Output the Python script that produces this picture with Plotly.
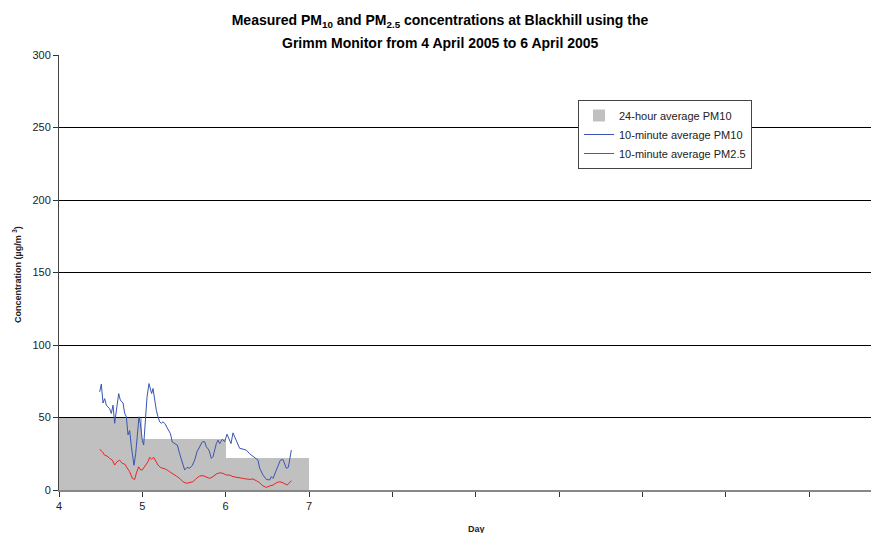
import plotly.graph_objects as go

# 24-hour averages (day centre, value)
avg_day_centre = [4.5, 5.5, 6.5]
avg_pm10 = [50, 35.5, 22]

pm10_days = [4.488, 4.508, 4.528, 4.548, 4.568, 4.608, 4.628, 4.648, 4.668, 4.688,
             4.716, 4.736, 4.768, 4.788, 4.808, 4.828, 4.848, 4.868, 4.888, 4.900,
             4.920, 4.936, 4.960, 4.976, 5.000, 5.016, 5.032, 5.056, 5.080, 5.096,
             5.112, 5.128, 5.148, 5.168, 5.188, 5.208, 5.228, 5.248, 5.268, 5.288,
             5.308, 5.336, 5.360, 5.388, 5.420, 5.448, 5.480, 5.508, 5.536, 5.568,
             5.600, 5.628, 5.656, 5.688, 5.720, 5.748, 5.768, 5.800, 5.828, 5.848,
             5.868, 5.888, 5.908, 5.928, 5.960, 5.988, 6.016, 6.040, 6.064, 6.088,
             6.108, 6.136, 6.168, 6.208, 6.248, 6.288, 6.328, 6.368, 6.388, 6.408,
             6.448, 6.488, 6.528, 6.548, 6.568, 6.600, 6.628, 6.656, 6.688, 6.708,
             6.728, 6.752, 6.768, 6.788]
pm10_vals = [67.7, 73.0, 60.0, 63.0, 58.5, 56.0, 52.8, 58.5, 46.0, 55.0,
             66.5, 62.0, 60.0, 53.0, 50.5, 38.0, 41.0, 30.0, 20.6, 17.0,
             25.0, 37.0, 50.5, 46.0, 34.0, 31.0, 48.0, 64.0, 73.4, 69.0,
             66.5, 70.0, 62.0, 55.0, 50.5, 47.0, 46.0, 47.0, 46.0, 43.6,
             41.3, 39.0, 33.0, 32.0, 31.0, 25.0, 18.3, 13.8, 15.6, 15.0,
             17.0, 20.6, 26.4, 29.8, 33.3, 33.3, 29.8, 27.5, 21.8, 23.0,
             28.7, 32.0, 34.4, 32.0, 35.0, 33.3, 38.5, 35.6, 32.0, 39.4,
             36.7, 33.3, 28.7, 28.2, 27.5, 25.0, 23.4, 21.8, 20.6, 15.0,
             10.3, 7.3, 6.9, 9.2, 8.0, 12.6, 17.2, 20.6, 21.0, 18.3,
             15.0, 15.6, 20.6, 27.5]

pm25_days = [4.488, 4.520, 4.548, 4.576, 4.608, 4.640, 4.668, 4.696, 4.728, 4.760,
             4.788, 4.816, 4.848, 4.880, 4.908, 4.928, 4.956, 4.980, 5.000, 5.020,
             5.040, 5.068, 5.088, 5.112, 5.136, 5.160, 5.188, 5.216, 5.248, 5.288,
             5.328, 5.368, 5.408, 5.448, 5.488, 5.528, 5.568, 5.608, 5.648, 5.688,
             5.728, 5.768, 5.808, 5.848, 5.888, 5.928, 5.968, 6.008, 6.048, 6.088,
             6.128, 6.168, 6.208, 6.248, 6.288, 6.328, 6.368, 6.408, 6.448, 6.488,
             6.528, 6.568, 6.608, 6.648, 6.688, 6.708, 6.736, 6.760, 6.788]
pm25_vals = [28.0, 26.4, 24.0, 23.4, 21.8, 20.6, 17.2, 19.5, 20.6, 18.3,
             17.9, 15.0, 12.6, 8.0, 7.3, 11.5, 16.0, 13.8, 13.8, 15.6,
             17.2, 19.5, 22.5, 21.3, 22.5, 20.2, 17.2, 15.6, 15.0, 14.2,
             12.6, 10.8, 9.6, 8.0, 5.7, 4.6, 5.0, 5.7, 8.0, 9.6,
             9.9, 9.2, 8.0, 9.2, 11.0, 11.9, 11.5, 10.3, 10.3, 9.2,
             8.7, 8.5, 8.0, 7.6, 7.3, 7.6, 6.4, 5.0, 2.8, 1.8,
             2.8, 3.4, 5.0, 5.7, 5.0, 4.1, 3.4, 4.6, 6.4]

x_tickvals = [4, 5, 6, 7, 8, 9, 10, 11, 12, 13]
x_ticktext = ["4", "5", "6", "7", "", "", "", "", "", ""]
y_tickvals = [0, 50, 100, 150, 200, 250, 300]

FONT = "Liberation Sans, Arial, sans-serif"

# The page body adds an 8px offset; the figure is sized so that it fills the window exactly.
W, H = 871, 525
PL, PT, PB = 51, 47, 43
PW, PH = W - PL, H - PT - PB


def px_x(sx):  # screenshot x -> paper x
    return (sx - 8 - PL) / PW


def px_y(sy):  # screenshot y -> paper y
    return (H - PB - (sy - 8)) / PH


fig = go.Figure()
fig.add_trace(go.Bar(x=avg_day_centre, y=avg_pm10, width=1, marker=dict(color="#C0C0C0", line=dict(width=0)),
                     name="24-hour average PM10"))
fig.add_trace(go.Scatter(x=pm10_days, y=pm10_vals, mode="lines", line=dict(color="#3A55B0", width=1),
                         name="10-minute average PM10"))
fig.add_trace(go.Scatter(x=pm25_days, y=pm25_vals, mode="lines", line=dict(color="#EE2222", width=1),
                         name="10-minute average PM2.5"))

fig.update_layout(
    width=W, height=H,
    margin=dict(l=PL, r=0, t=PT, b=PB, autoexpand=False),
    paper_bgcolor="white", plot_bgcolor="white",
    font=dict(family=FONT, color="#222"),
    bargap=0,
    title=dict(text="<b>Measured PM<sub>10</sub> and PM<sub>2.5</sub> concentrations at Blackhill using the</b>",
               x=(440 - 8) / W, xanchor="center", y=1 - (20 - 8) / H, yanchor="middle", yref="container",
               font=dict(size=14, family=FONT, color="#000")),
    showlegend=True,
    legend=dict(x=px_x(578), y=px_y(100), xanchor="left", yanchor="top", bgcolor="white",
                bordercolor="#444", borderwidth=1, font=dict(size=11, family=FONT, color="#222"),
                tracegroupgap=0, itemwidth=30),
    xaxis=dict(range=[4, 13.84], tickvals=x_tickvals, ticktext=x_ticktext, ticks="outside", ticklen=5,
               tickcolor="#333", showline=True, linecolor="#888", linewidth=2, showgrid=False, zeroline=False,
               automargin=False, tickfont=dict(size=11, family=FONT, color="#222")),
    yaxis=dict(range=[0, 300], tickvals=y_tickvals, ticks="outside", ticklen=5, tickcolor="#333",
               showline=True, linecolor="#444", linewidth=1, showgrid=True, gridcolor="#000", gridwidth=1,
               zeroline=False, automargin=False, tickfont=dict(size=11, family=FONT, color="#222")),
)
fig.add_annotation(text="<b>Grimm Monitor from 4 April 2005 to 6 April 2005</b>", x=px_x(440), y=px_y(43),
                   xref="paper", yref="paper", showarrow=False, xanchor="center", yanchor="middle",
                   font=dict(size=14, family=FONT, color="#000"))
fig.add_annotation(text="<b>Day</b>", x=px_x(476), y=px_y(529), xref="paper", yref="paper",
                   showarrow=False, xanchor="center", yanchor="middle",
                   font=dict(size=9, family=FONT, color="#222"))
fig.add_annotation(text="<b>Concentration (µg/m <sup>3</sup>)</b>", x=px_x(17), y=px_y(275),
                   xref="paper", yref="paper", showarrow=False, textangle=-90, xanchor="center", yanchor="middle",
                   font=dict(size=9, family=FONT, color="#222"))

fig.write_html("out.html")
